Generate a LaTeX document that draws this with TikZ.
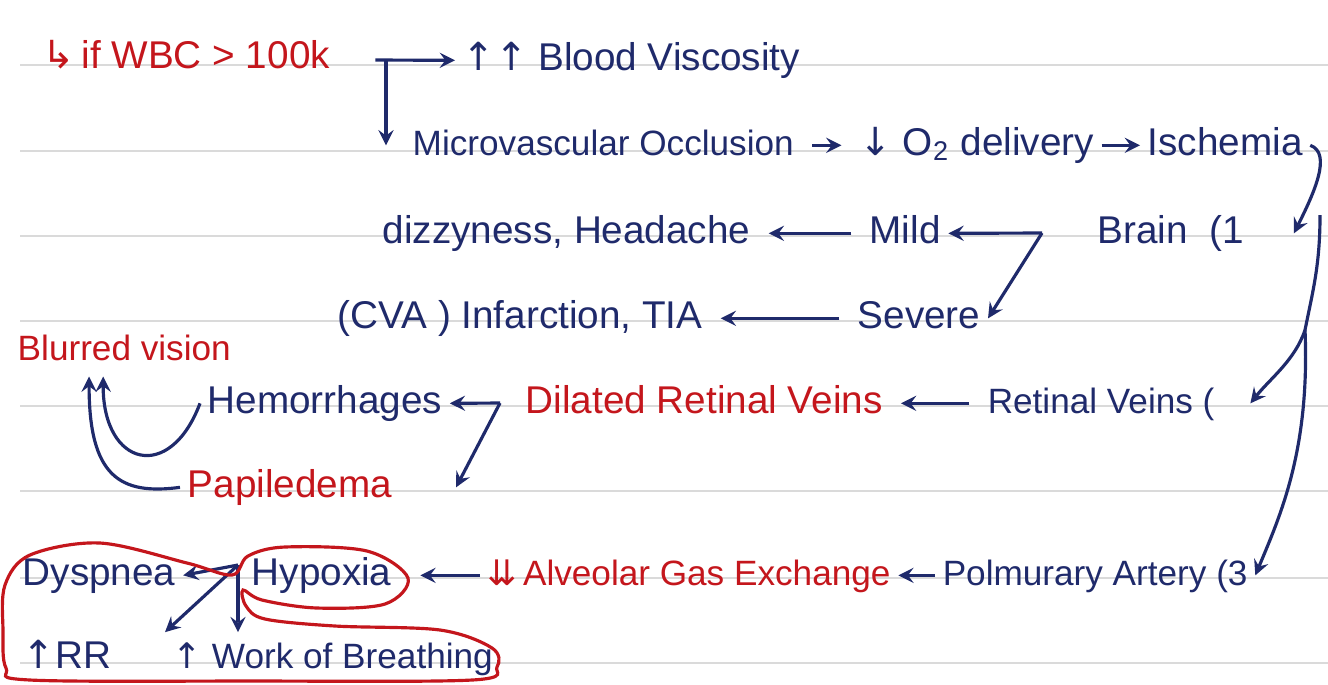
\documentclass[tikz,border=0pt]{standalone}
\usepackage{fontspec}
\setmainfont{Liberation Sans}
\newfontfamily\symfont{DejaVu Sans}
\definecolor{inkblue}{HTML}{1F2A6B}
\definecolor{inkred}{HTML}{C4161C}
\definecolor{paperline}{HTML}{DADADA}

\begin{document}
\begin{tikzpicture}[x=0.01cm, y=-0.01cm,
    note/.style={text=inkblue, font=\fontsize{11}{13}\selectfont, text height=8pt,
                 text depth=2.5pt, inner sep=2pt, anchor=base west},
    rednote/.style={note, text=inkred},
    small/.style={font=\fontsize{10}{12}\selectfont},
    ink/.style={draw=inkblue, line width=0.9pt},
    arr/.style={ink, ->, >=stealth},
    gap/.style={arr, shorten <=3pt, shorten >=3pt},
    ring/.style={draw=inkred, line width=0.9pt}
]
\fill[white] (0,0) rectangle (1328,684);
\useasboundingbox (0,0) rectangle (1328,684);
% ruled paper
\draw[paperline, line width=0.6pt] (20,65) -- (1328,65) (20,151) -- (1328,151)
    (20,236) -- (1328,236) (20,321) -- (1328,321) (20,406) -- (1328,406)
    (20,491) -- (1328,491) (20,578) -- (1328,578) (20,663) -- (1328,663);

\node[rednote] (wbc) at (35,68) {{\symfont ↳}\,if WBC > 100k};
\node[note] (visc) at (455,70) {{\symfont ↑↑} Blood Viscosity};
\node[note, small] (occl) at (405,155) {Microvascular Occlusion};
\node[note] (o2) at (852,155) {{\symfont ↓} O\textsubscript{2} delivery};
\node[note] (isch) at (1140,155) {Ischemia};
\node[note] (dizz) at (375,243) {dizzyness, Headache};
\node[note] (mild) at (862,243) {Mild};
\node[note] (brain) at (1090,243) {Brain~~(1};
\node[note] (cva) at (330,328) {(CVA ) Infarction, TIA};
\node[note] (severe) at (850,328) {Severe};
\node[rednote, small] (blur) at (10,360) {Blurred vision};
\node[note] (hemo) at (200,413) {Hemorrhages};
\node[rednote] (dil) at (518,413) {Dilated Retinal Veins};
\node[note, small] (ret) at (980,413) {Retinal Veins (};
\node[rednote] (papi) at (180,497) {Papiledema};
\node[note] (dysp) at (15,585) {Dyspnea};
\node[note] (hypo) at (244,585) {Hypoxia};
\node[rednote, small] (alv) at (480,585) {{\symfont ⇊}\,Alveolar Gas Exchange};
\node[note, small] (pulm) at (935,585) {Polmurary Artery (3};
\node[note] (rr) at (15,668) {{\symfont ↑}RR};
\node[note, small] (wob) at (165,668) {{\symfont ↑} Work of Breathing};

\coordinate (wfork) at (386,60);
\coordinate (bfork) at (1042,233);
\coordinate (drop) at (1320,215);
\coordinate (split) at (1305,330);
\coordinate (dfork) at (500,403);
\coordinate (hfork) at (238,565);

\draw[arr] ([xshift=-3pt]wfork) -- (visc.west);
\draw[arr] (wfork) -- (wfork |- occl.west);
\draw[gap] (occl.east) -- (o2.west);
\draw[arr] (o2.east) -- (isch.west);
\draw[arr] (isch.east) .. controls +(22,8) and +(20,-40) .. ([xshift=12pt]brain.east);
\draw[ink] (drop) .. controls +(0,50) and +(8,-40) .. (split);
\draw[arr] (split) .. controls +(-10,30) and +(20,-25) .. ([xshift=8pt]ret.east);
\draw[arr] (split) .. controls +(5,120) and +(25,-60) .. (pulm.east);
\draw[arr] (bfork) -- (mild.east);
\draw[arr] (bfork) -- (severe.east);
\draw[gap] (mild.west) -- (dizz.east);
\draw[gap] (severe.west) -- (cva.east);
\draw[gap] (ret.west) -- (dil.east);
\draw[arr] (dfork) -- (hemo.east);
\draw[arr] (dfork) -- ([xshift=16pt]papi.east);
\draw[arr] (hemo.west) .. controls +(-30,80) and +(0,90) .. ([xshift=-6pt]blur.south);
\draw[arr] (papi.west) .. controls +(-60,8) and +(0,100) .. ([xshift=-10pt]blur.south);
\draw[arr] (pulm.west) -- (alv.east);
\draw[arr, shorten >=6pt] (alv.west) -- (hypo.east);
\draw[arr] (hfork) -- (dysp.east);
\draw[arr] (hfork) -- (wob.north west);
\draw[arr] (hfork) -- (hfork |- wob.north);

% red loop round the lung findings
\draw[ring] plot[smooth cycle, tension=0.55] coordinates {
    (5,585) (30,555) (100,543) (187,563) (232,575) (248,556) (285,547)
    (367,551) (408,578) (385,604) (317,608) (262,600) (243,590) (246,606)
    (265,619) (335,626) (440,630) (492,648) (497,667) (472,680) (250,681)
    (30,680) (6,668) (3,630)};
\end{tikzpicture}
\end{document}
